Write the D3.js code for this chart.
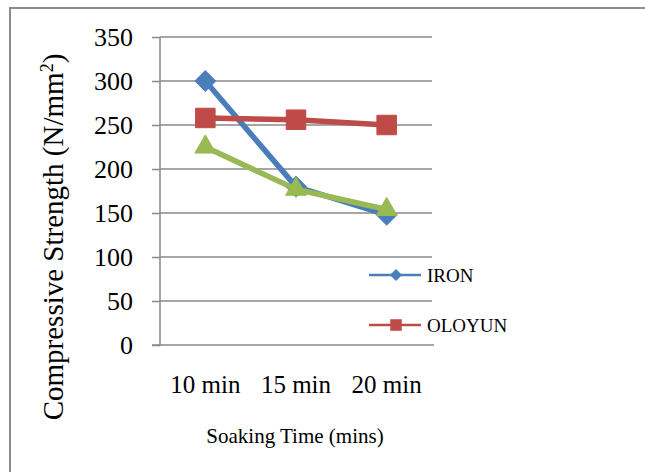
<!DOCTYPE html>
<html>
<head>
<meta charset="utf-8">
<script src="https://cdn.jsdelivr.net/npm/d3@7"></script>
<style>
  body { margin: 0; background: #fff; }
  svg text { font-family: "Liberation Serif", "DejaVu Serif", serif; fill: #000; }
</style>
</head>
<body>
<div id="chart"></div>
<script>
let categories = ['10 min', '15 min', '20 min'];
let ironValues = [300, 180, 148];
let oloyunValues = [258, 256, 250];
let thirdValues = [225, 177, 154];
let yTicks = [0, 50, 100, 150, 200, 250, 300, 350];

// diamond drawn as a square turned 45 degrees, like the spreadsheet marker
let series = [
  {name: 'IRON', values: ironValues, color: '#4A7EBB', shape: d3.symbolSquare, size: 210, rot: 45, legend: true},
  {name: 'OLOYUN', values: oloyunValues, color: '#BE4B48', shape: d3.symbolSquare, size: 380, rot: 0, legend: true},
  {name: '', values: thirdValues, color: '#98B954', shape: d3.symbolTriangle, size: 190, rot: 0, legend: false}
];

let W = 645, H = 472;
let svg = d3.select('#chart').append('svg')
  .attr('width', W)
  .attr('height', H);

// outer frame, runs off the right and bottom
svg.append('rect')
  .attr('x', 10).attr('y', 8)
  .attr('width', 700).attr('height', 500)
  .attr('fill', 'none')
  .attr('stroke', '#8c8c8c')
  .attr('stroke-width', 2);

let x = d3.scaleBand().domain(categories).range([160, 432]);
let y = d3.scaleLinear().domain([0, 350]).range([345, 37]);

// gridlines
svg.append('g')
  .attr('class', 'grid')
  .selectAll('line')
  .data(yTicks.filter(d => d > 0))
  .enter()
  .append('line')
  .attr('x1', 160).attr('x2', 432)
  .attr('y1', d => y(d)).attr('y2', d => y(d))
  .attr('stroke', '#888')
  .attr('stroke-width', 1.5);

// y axis
let yAxis = svg.append('g')
  .attr('transform', 'translate(160,0)')
  .call(d3.axisLeft(y).tickValues(yTicks).tickSize(8).tickPadding(19));
yAxis.selectAll('line').attr('stroke', '#888').attr('stroke-width', 1.5);
yAxis.select('.domain').attr('stroke', '#888').attr('stroke-width', 1.5).attr('d', 'M0,37V345');
yAxis.selectAll('text').attr('font-size', 26);

// x axis
let xAxis = svg.append('g')
  .attr('transform', 'translate(0,345)')
  .call(d3.axisBottom(x).tickSize(0).tickPadding(30));
xAxis.select('.domain').attr('stroke', '#888').attr('stroke-width', 1.5).attr('d', 'M152,0H434');
xAxis.selectAll('text').attr('font-size', 25);

// lines and markers
let line = d3.line()
  .x((d, i) => x(categories[i]) + x.bandwidth() / 2)
  .y(d => y(d));

series.forEach(s => {
  svg.append('path')
    .datum(s.values)
    .attr('d', line)
    .attr('fill', 'none')
    .attr('stroke', s.color)
    .attr('stroke-width', 5.5)
    .attr('stroke-linejoin', 'round');
  svg.append('g')
    .selectAll('path')
    .data(s.values)
    .enter()
    .append('path')
    .attr('d', d3.symbol().type(s.shape).size(s.size))
    .attr('transform', (d, i) => `translate(${x(categories[i]) + x.bandwidth() / 2},${y(d)}) rotate(${s.rot})`)
    .attr('fill', s.color)
    .attr('stroke', s.color)
    .attr('stroke-width', 1);
});

// legend
let legend = svg.append('g')
  .selectAll('g')
  .data(series.filter(s => s.legend))
  .enter()
  .append('g')
  .attr('transform', (d, i) => `translate(369,${275 + i * 50})`);
legend.append('line')
  .attr('x1', 0).attr('x2', 52)
  .attr('stroke', d => d.color)
  .attr('stroke-width', 2.5);
legend.append('path')
  .attr('d', d => d3.symbol().type(d.shape).size(d.size * 0.35)())
  .attr('transform', d => `translate(27,0) rotate(${d.rot})`)
  .attr('fill', d => d.color);
legend.append('text')
  .attr('x', 58)
  .attr('y', 7)
  .attr('font-size', 19)
  .text(d => d.name);

// axis titles
svg.append('text')
  .attr('x', 295)
  .attr('y', 443)
  .attr('text-anchor', 'middle')
  .attr('font-size', 21)
  .text('Soaking Time (mins)');

let yTitle = svg.append('text')
  .attr('transform', 'translate(63,237) rotate(-90)')
  .attr('text-anchor', 'middle')
  .attr('font-size', 29);
yTitle.append('tspan').text('Compressive Strength (N/mm');
yTitle.append('tspan')
  .attr('dy', -10)
  .attr('font-size', 18)
  .text('2');
yTitle.append('tspan')
  .attr('dy', 10)
  .text(')');
</script>
</body>
</html>
